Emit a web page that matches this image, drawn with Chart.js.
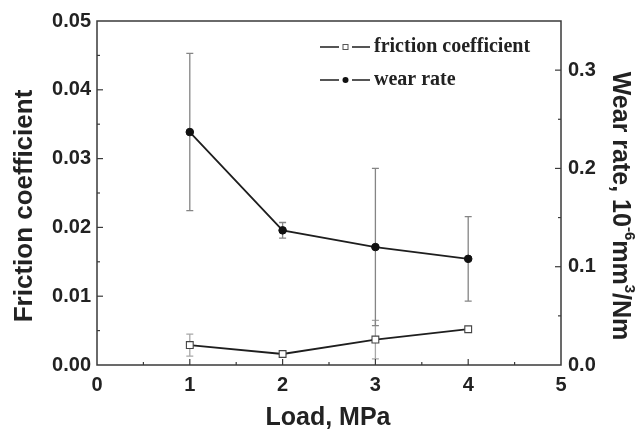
<!DOCTYPE html>
<html>
<head>
<meta charset="utf-8">
<script src="https://cdn.jsdelivr.net/npm/chart.js@4.4.1/dist/chart.umd.min.js"></script>
<style>
  html, body { margin: 0; padding: 0; background: #fff; }
  #wrap { width: 643px; height: 433px; }
</style>
</head>
<body>
<div id="wrap"><canvas id="c" width="643" height="433"></canvas></div>
<script>
// ---- data ----
const loads = [1, 2, 3, 4];
const frictionCoefficient = [0.0029, 0.0016, 0.0037, 0.0052];
const frictionError = [0.0016, 0.0002, 0.0028, 0.0002];
const wearRate = [0.237, 0.137, 0.120, 0.108];
const wearRateError = [0.080, 0.008, 0.080, 0.043];
const xTickLabels = ['0', '1', '2', '3', '4', '5'];
const leftTickLabels = ['0.00', '0.01', '0.02', '0.03', '0.04', '0.05'];
const rightTickLabels = ['0.0', '0.1', '0.2', '0.3'];

const SANS = '"Liberation Sans", Arial, Helvetica, sans-serif';
const SERIF = '"Liberation Serif", "Times New Roman", serif';
const INK = '#222';
const AXIS = '#3a3a3a';

function isMultiple(v, step) {
  const r = v / step;
  return Math.abs(r - Math.round(r)) < 1e-6;
}

// error bars, drawn behind lines and markers
const errorBars = {
  id: 'errorBars',
  beforeDatasetsDraw(chart) {
    const ctx = chart.ctx;
    const xs = chart.scales.x;
    chart.data.datasets.forEach((ds) => {
      const ys = chart.scales[ds.yAxisID];
      ctx.save();
      ctx.strokeStyle = ds.errorColor;
      ctx.lineWidth = 1.3;
      ds.data.forEach((p, i) => {
        const e = ds.errors[i];
        const px = xs.getPixelForValue(p.x);
        const top = ys.getPixelForValue(p.y + e);
        const bot = ys.getPixelForValue(p.y - e);
        ctx.beginPath();
        ctx.moveTo(px, top); ctx.lineTo(px, bot);
        ctx.moveTo(px - 3.5, top); ctx.lineTo(px + 3.5, top);
        ctx.moveTo(px - 3.5, bot); ctx.lineTo(px + 3.5, bot);
        ctx.stroke();
      });
      ctx.restore();
    });
  }
};

// frame, inward ticks, titles and legend
const decorations = {
  id: 'decorations',
  afterDraw(chart) {
    const ctx = chart.ctx;
    const a = chart.chartArea;
    ctx.save();
    ctx.strokeStyle = AXIS;
    ctx.lineWidth = 1.5;
    ctx.strokeRect(a.left, a.top, a.right - a.left, a.bottom - a.top);

    // x ticks (inward, upward)
    const xs = chart.scales.x;
    ctx.lineWidth = 1.2;
    xs.ticks.forEach(t => {
      if (t.value <= xs.min || t.value >= xs.max) return;
      const px = xs.getPixelForValue(t.value);
      const len = isMultiple(t.value, 1) ? 6 : 3;
      ctx.beginPath(); ctx.moveTo(px, a.bottom); ctx.lineTo(px, a.bottom - len); ctx.stroke();
    });
    // left ticks
    const yl = chart.scales.y;
    yl.ticks.forEach(t => {
      if (t.value <= yl.min + 1e-9 || t.value >= yl.max - 1e-9) return;
      const py = yl.getPixelForValue(t.value);
      const len = isMultiple(t.value, 0.01) ? 6 : 3;
      ctx.beginPath(); ctx.moveTo(a.left, py); ctx.lineTo(a.left + len, py); ctx.stroke();
    });
    // right ticks
    const yr = chart.scales.y1;
    yr.ticks.forEach(t => {
      if (t.value <= yr.min + 1e-9 || t.value >= yr.max - 1e-9) return;
      const py = yr.getPixelForValue(t.value);
      const len = isMultiple(t.value, 0.1) ? 6 : 3;
      ctx.beginPath(); ctx.moveTo(a.right, py); ctx.lineTo(a.right - len, py); ctx.stroke();
    });

    // axis titles
    ctx.fillStyle = INK;
    ctx.textAlign = 'center';
    ctx.textBaseline = 'middle';
    ctx.font = 'bold 25px ' + SANS;
    ctx.fillText('Load, MPa', (a.left + a.right) / 2 - 1, 418);

    ctx.save();
    ctx.translate(25, 206);
    ctx.rotate(-Math.PI / 2);
    ctx.font = 'bold 26px ' + SANS;
    ctx.fillText('Friction coefficient', 0, 0);
    ctx.restore();

    // right title with superscripts
    const parts = [
      { t: 'Wear rate, 10', sup: false },
      { t: '-6', sup: true },
      { t: 'mm', sup: false },
      { t: '3', sup: true },
      { t: '/Nm', sup: false }
    ];
    const mainFont = 'bold 25px ' + SANS;
    const supFont = 'bold 15px ' + SANS;
    let total = 0;
    parts.forEach(p => { ctx.font = p.sup ? supFont : mainFont; p.w = ctx.measureText(p.t).width; total += p.w; });
    ctx.save();
    ctx.translate(620, 206);
    ctx.rotate(Math.PI / 2);
    ctx.textAlign = 'left';
    let cx = -total / 2;
    parts.forEach(p => {
      ctx.font = p.sup ? supFont : mainFont;
      ctx.fillText(p.t, cx, p.sup ? -9 : 0);
      cx += p.w;
    });
    ctx.restore();

    // legend
    ctx.font = 'bold 20px ' + SERIF;
    ctx.textAlign = 'left';
    ctx.textBaseline = 'middle';
    const rows = [47, 80];
    chart.data.datasets.forEach((ds, i) => {
      const y = rows[i];
      ctx.strokeStyle = '#1e1e1e';
      ctx.lineWidth = 1.6;
      ctx.beginPath();
      ctx.moveTo(320, y); ctx.lineTo(339, y);
      ctx.moveTo(352, y); ctx.lineTo(370, y);
      ctx.stroke();
      if (ds.pointStyle === 'rect') {
        ctx.fillStyle = '#fff';
        ctx.strokeStyle = '#555';
        ctx.lineWidth = 1;
        ctx.fillRect(343, y - 2.5, 5, 5);
        ctx.strokeRect(343, y - 2.5, 5, 5);
      } else {
        ctx.fillStyle = '#111';
        ctx.beginPath(); ctx.arc(345.5, y, 3, 0, Math.PI * 2); ctx.fill();
      }
      ctx.fillStyle = INK;
      ctx.fillText(ds.label, 374, y);
    });
    ctx.restore();
  }
};

const tickFont = { family: SANS, size: 20, weight: 'bold' };

new Chart(document.getElementById('c'), {
  type: 'line',
  data: {
    datasets: [
      {
        label: 'friction coefficient',
        data: loads.map((x, i) => ({ x, y: frictionCoefficient[i] })),
        errors: frictionError,
        errorColor: '#a8a8a8',
        yAxisID: 'y',
        borderColor: '#1e1e1e',
        borderWidth: 1.8,
        pointStyle: 'rect',
        pointRadius: 4.8,
        pointBackgroundColor: '#fff',
        pointBorderColor: '#444',
        pointBorderWidth: 1.1,
        tension: 0
      },
      {
        label: 'wear rate',
        data: loads.map((x, i) => ({ x, y: wearRate[i] })),
        errors: wearRateError,
        errorColor: '#858585',
        yAxisID: 'y1',
        borderColor: '#1e1e1e',
        borderWidth: 1.8,
        pointStyle: 'circle',
        pointRadius: 3.8,
        pointBackgroundColor: '#111',
        pointBorderColor: '#111',
        pointBorderWidth: 1,
        tension: 0
      }
    ]
  },
  options: {
    responsive: false,
    animation: false,
    devicePixelRatio: 1,
    layout: { padding: { top: 21, left: 0, right: 0, bottom: 0 } },
    plugins: { legend: { display: false }, tooltip: { enabled: false } },
    scales: {
      x: {
        type: 'linear',
        min: 0, max: 5,
        grid: { display: false, drawTicks: false },
        border: { display: false },
        afterFit: s => { s.height = 68; },
        ticks: {
          stepSize: 0.5, autoSkip: false, maxRotation: 0, padding: 8,
          color: INK, font: tickFont,
          callback: v => isMultiple(v, 1) ? xTickLabels[Math.round(v)] : ''
        }
      },
      y: {
        position: 'left',
        min: 0, max: 0.05,
        grid: { display: false, drawTicks: false },
        border: { display: false },
        afterFit: s => { s.width = 97; },
        ticks: {
          stepSize: 0.005, autoSkip: false, padding: 6,
          color: INK, font: tickFont,
          callback: v => isMultiple(v, 0.01) ? leftTickLabels[Math.round(v / 0.01)] : ''
        }
      },
      y1: {
        position: 'right',
        min: 0, max: 0.35,
        grid: { display: false, drawTicks: false },
        border: { display: false },
        afterFit: s => { s.width = 82; },
        ticks: {
          stepSize: 0.05, autoSkip: false, padding: 7,
          color: INK, font: tickFont,
          callback: v => isMultiple(v, 0.1) ? rightTickLabels[Math.round(v / 0.1)] : ''
        }
      }
    }
  },
  plugins: [errorBars, decorations]
});
</script>
</body>
</html>
